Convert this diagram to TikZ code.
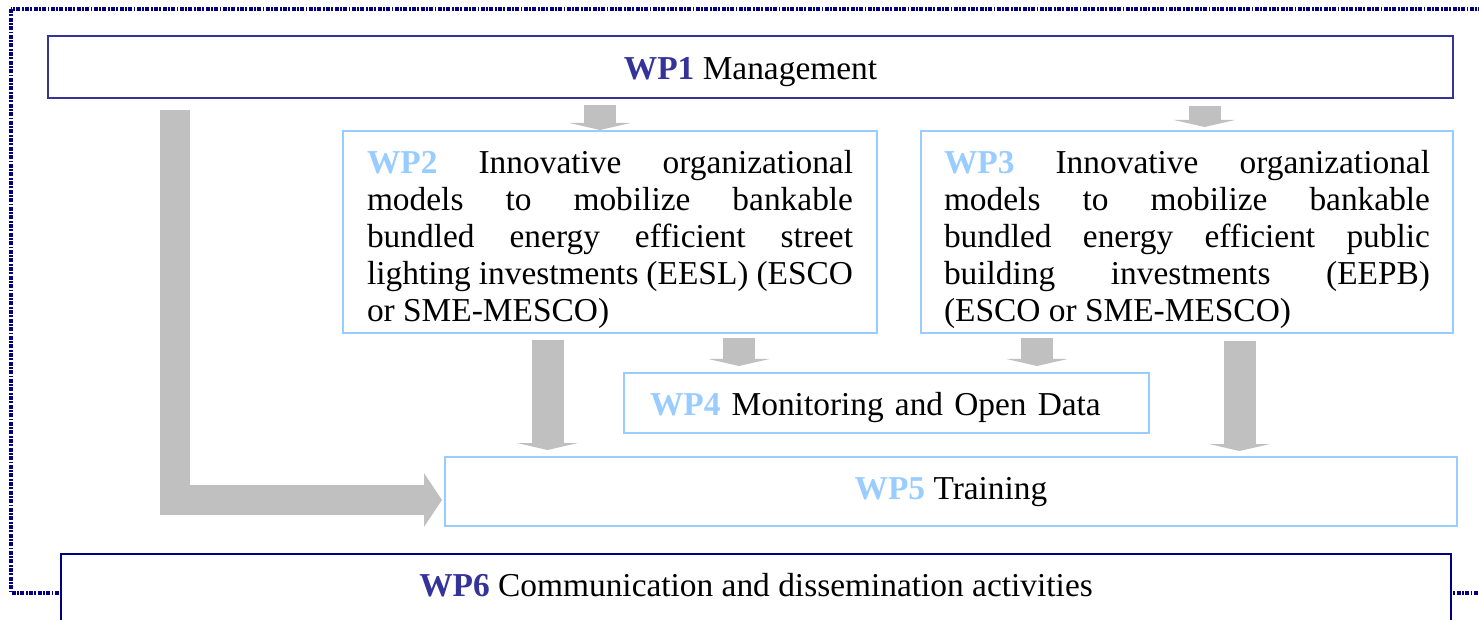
\documentclass[tikz,border=0pt]{standalone}
\usepackage{fontspec}
\setmainfont{Liberation Serif}
\usetikzlibrary{arrows.meta}

\definecolor{wpnavy}{HTML}{333399}
\definecolor{framenavy}{HTML}{000080}
\definecolor{wplight}{HTML}{99CCFF}
\definecolor{arrowgray}{HTML}{C0C0C0}

\newcommand{\wpdk}[1]{\textbf{\color{wpnavy}#1}}
\newcommand{\wplt}[1]{\textbf{\color{wplight}#1}}
\newcommand{\wptop}{\rule{0pt}{19.5pt}}
\hbadness=10000

\begin{document}
\begin{tikzpicture}[
    x=0.5pt, y=-0.5pt,
    font=\fontsize{16.7}{18.5}\selectfont,
    oneline/.style={text height=16pt, text depth=3.6pt},
    wpdark/.style={draw=wpnavy, line width=1.2pt, fill=white, minimum height=31pt, oneline},
    wpbox/.style={draw=wplight, line width=1pt, fill=white},
    wpbig/.style={wpbox, text width=243pt, align=justify, inner ysep=1.75pt, minimum height=101pt},
    blockarrow/.style={draw=arrowgray, line width=16pt, -{Triangle[width=30.5pt,length=3.5pt]}},
    frame/.style={draw=framenavy, line width=1.7pt, dash pattern=on 2pt off 0.7pt on 0.9pt off 0.7pt}]
    \useasboundingbox (0,0) rectangle (1479,620);

    % Rahmen
    \draw[frame] (11,9) rectangle (1500,593);

    % Arbeitspakete
    \node[wpdark, minimum width=702.5pt] (wp1) at (750.5,67) {\wpdk{WP1} Management};
    \node[wpbig, inner xsep=12pt] (wp2) at (610,232) {\wptop\wplt{WP2} Innovative organizational\linebreak
        models to mobilize bankable\linebreak bundled energy efficient street\linebreak
        lighting investments (EESL) (ESCO\linebreak or SME-MESCO)};
    \node[wpbig, inner xsep=11.5pt] (wp3) at (1187,232) {\wptop\wplt{WP3} Innovative organizational\linebreak
        models to mobilize bankable\linebreak bundled energy efficient public\linebreak
        building investments (EEPB)\linebreak (ESCO or SME-MESCO)};
    \node[wpbox, oneline, text width=236.5pt, inner xsep=13pt, minimum height=30pt, align=left] (wp4) at (886.5,403)
        {\wplt{WP4} Monitoring and Open Data};
    \node[wpbox, minimum width=506pt, minimum height=34.5pt, text height=11.5pt, text depth=3.6pt] (wp5) at (951,491.5)
        {\wplt{WP5} Training};
    \node[draw=framenavy, line width=1pt, fill=white, minimum width=695pt, inner ysep=0pt,
          text height=21pt, text depth=23pt, anchor=north] (wp6) at (756,553)
        {\wpdk{WP6} Communication and dissemination activities};

    % Pfeile
    \draw[blockarrow, shorten <=3pt] ([xshift=-5pt]wp2.north |- wp1.south) -- ([xshift=-5pt]wp2.north);
    \draw[blockarrow, shorten <=3.5pt, shorten >=1.5pt] ([xshift=8.75pt]wp3.north |- wp1.south) -- ([xshift=8.75pt]wp3.north);
    \draw[blockarrow, shorten <=3pt, shorten >=3pt] ([xshift=-31.25pt]wp2.south) -- ([xshift=-31.25pt]wp2.south |- wp5.north);
    \draw[blockarrow, shorten <=2pt, shorten >=3pt] ([xshift=64.5pt]wp2.south) -- ([xshift=64.5pt]wp2.south |- wp4.north);
    \draw[blockarrow, shorten <=2pt, shorten >=3pt] ([xshift=-75pt]wp3.south) -- ([xshift=-75pt]wp3.south |- wp4.north);
    \draw[blockarrow, shorten <=3.5pt, shorten >=2.5pt] ([xshift=26.25pt]wp3.south) -- ([xshift=26.25pt]wp3.south |- wp5.north);
    \draw[blockarrow, line width=15pt, line join=miter, -{Triangle[width=26.5pt,length=9pt]},
          shorten <=5.5pt, shorten >=1pt] ([xshift=64pt]wp1.south west) |- ([yshift=-4.25pt]wp5.west);
\end{tikzpicture}
\end{document}
